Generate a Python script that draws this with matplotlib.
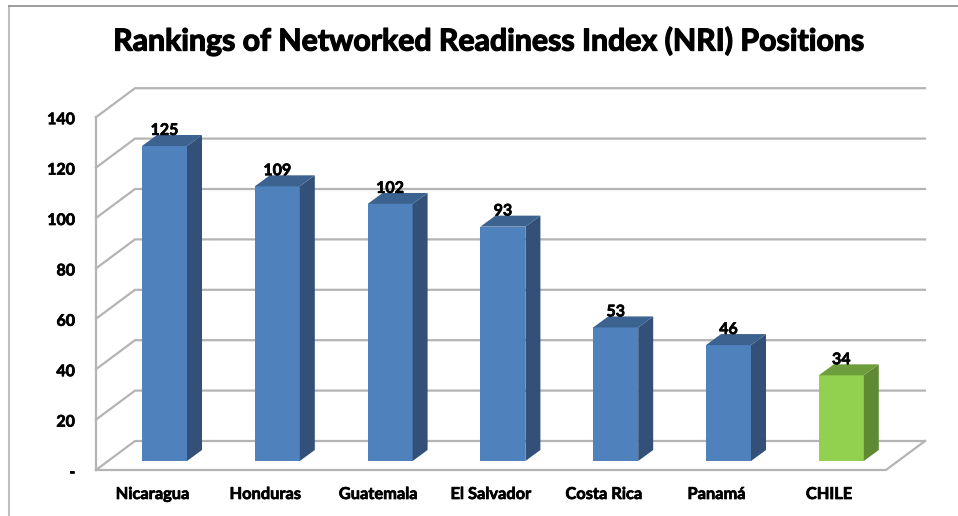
#!/usr/bin/env python3
import matplotlib
matplotlib.use("Agg")
import matplotlib.pyplot as plt
import matplotlib.patheffects as pe
from matplotlib.lines import Line2D

countries = ["Nicaragua", "Honduras", "Guatemala", "El Salvador", "Costa Rica", "Panamá", "CHILE"]
positions = [125, 109, 102, 93, 53, 46, 34]
y_ticks = [0, 20, 40, 60, 80, 100, 120, 140]
y_labels = ["-", "20", "40", "60", "80", "100", "120", "140"]

W, H = 958, 516
x0_px, x_step = 164.5, 112.8   # centre of first bar, spacing
y0_px, y_scale = 461.0, 2.52   # bar base, pixels per rank unit

blue = ("#4f81bd", "#3c6290", "#325078")
green = ("#92d050", "#6e9e3c", "#5f8a33")
grid = "#b4b4b4"
heavy = [pe.withStroke(linewidth=0.5, foreground="black")]
heavy_title = [pe.withStroke(linewidth=0.9, foreground="black")]

fig = plt.figure(figsize=(W / 100, H / 100), dpi=100, facecolor="white")
ax = fig.add_axes([0, 0, 1, 1])
ax.set_xlim((0 - x0_px) / x_step, (W - x0_px) / x_step)
ax.set_ylim((y0_px - H) / y_scale, y0_px / y_scale)
ax.axis("off")

dx_bar = 15 / x_step
dy_bar = 11 / y_scale
wall_front = -9 / y_scale
wall_back = 20 / y_scale
x_front = (96 - x0_px) / x_step
x_back = (135 - x0_px) / x_step
x_end = (925 - x0_px) / x_step
x_floor = (886 - x0_px) / x_step

# walls and gridlines
for v in y_ticks:
    ax.plot([x_front, x_back, x_end], [v + wall_front, v + wall_back, v + wall_back],
            color=grid, lw=1.6, solid_joinstyle="miter", zorder=1)
ax.plot([x_front, x_front], [wall_front, y_ticks[-1] + wall_front], color=grid, lw=1.6, zorder=1)
ax.plot([x_front, x_floor, x_end], [wall_front, wall_front, wall_back], color=grid, lw=1.6, zorder=1)

# bars
for i, (name, val) in enumerate(zip(countries, positions)):
    front, top, side = green if name == "CHILE" else blue
    ax.bar(i, val, width=45 / x_step, color=front, zorder=3)
    r = i + 22.5 / x_step
    l = i - 22.5 / x_step
    ax.fill([r, r + dx_bar, r + dx_bar, r], [0, dy_bar, val + dy_bar, val], color=side, lw=0, zorder=3)
    ax.fill([l, l + dx_bar, r + dx_bar, r], [val, val + dy_bar, val + dy_bar, val], color=top, lw=0, zorder=3)
    ax.text(i, val + 6.0, str(val), ha="center", va="center", fontsize=11.5, fontweight="bold",
            family="Lato", color="black", zorder=4, path_effects=heavy)

# axis labels
for v, lab in zip(y_ticks, y_labels):
    ax.text((75 - x0_px) / x_step, v + wall_front - 3 / y_scale, lab, ha="right", va="center",
            fontsize=11.5, fontweight="bold", family="Lato", color="black", path_effects=heavy)
for i, name in enumerate(countries):
    ax.text(i - 12 / x_step, -34 / y_scale, name, ha="center", va="center", fontsize=11.8,
            fontweight="bold", family="Lato", color="black", path_effects=heavy)

fig.text(489 / W, 1 - 41 / H, "Rankings of Networked Readiness Index (NRI) Positions",
         ha="center", va="center", fontsize=21.8, fontweight="bold", family="Lato", color="black",
         path_effects=heavy_title)

# chart border: left and top only, the rest is cropped away
fig.add_artist(Line2D([9 / W, 9 / W], [0, 1 - 6 / H], color="#c0c0c0", lw=1.5))
fig.add_artist(Line2D([9 / W, 1], [1 - 6 / H, 1 - 6 / H], color="#8c8c8c", lw=1.2))

fig.savefig("out.png", dpi=100)
